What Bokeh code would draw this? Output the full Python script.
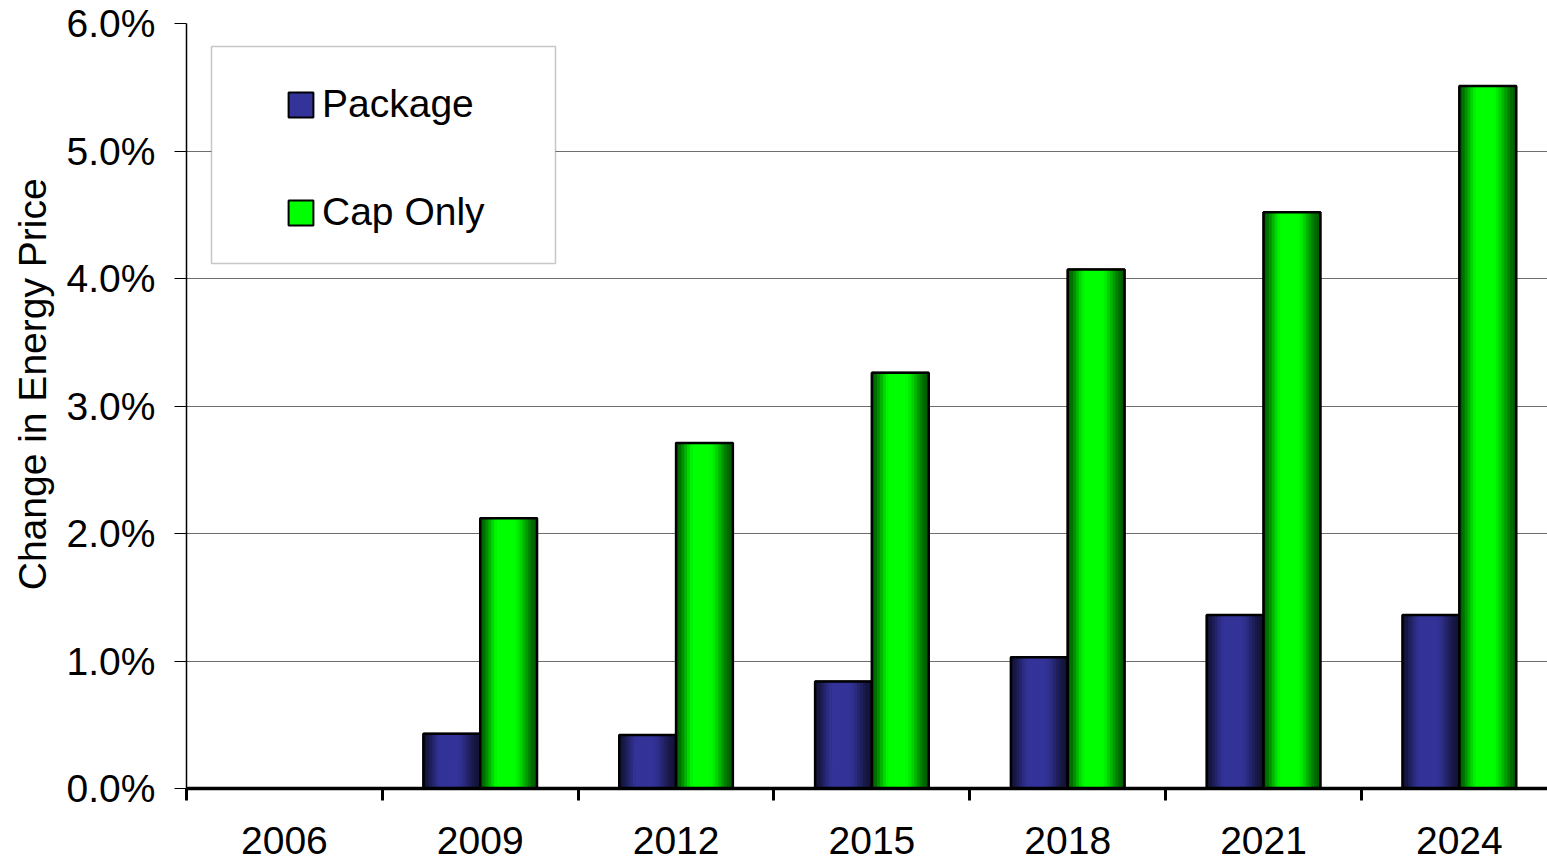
import numpy as np
from bokeh.plotting import figure
from bokeh.models import (Range1d, FixedTicker, NumeralTickFormatter, Legend,
                          LegendItem, BoxAnnotation, ColumnDataSource)
from bokeh.embed import file_html
from bokeh.resources import INLINE

# ---- data (percent) ----
years = ["2006", "2009", "2012", "2015", "2018", "2021", "2024"]
package = [0.0, 0.43, 0.42, 0.84, 1.03, 1.36, 1.36]
cap_only = [0.0, 2.12, 2.71, 3.26, 4.07, 4.52, 5.51]
series_names = ["Package", "Cap Only"]
y_ticks = [0, 1, 2, 3, 4, 5, 6]

# ---- geometry / style ----
W, H = 1547, 861
BL, BT, BR, BB = 186, 23, 0, 73
frame_w = W - BL - BR
frame_h = H - BT - BB
X_END = 6.95
Y_END = 0.06
pxx = frame_w / X_END
pxy = frame_h / Y_END
FONT = "Liberation Sans"
FS = "39px"
bar_w = 0.29
N = 20
navy = (51, 51, 153)
green = (0, 255, 0)


def profile(t):
    lo = 0.36
    if t < 0.33:
        s = t / 0.33
        s = s * s * (3 - 2 * s)
        return lo + (1 - lo) * s
    if t < 0.58:
        return 1.0
    s = (t - 0.58) / 0.42
    s = s * s * (3 - 2 * s)
    return 1 - (1 - lo) * s


def hexcol(rgb, f):
    return "#%02x%02x%02x" % tuple(int(round(c * f)) for c in rgb)


p = figure(width=W, height=H, output_backend="svg", toolbar_location=None,
           x_range=Range1d(0, X_END), y_range=Range1d(0, Y_END),
           min_border_left=BL, min_border_top=BT, min_border_right=BR,
           min_border_bottom=BB)
p.outline_line_color = None
p.background_fill_color = "white"
p.border_fill_color = "white"

legend_rs = []
for vals, base, off in [(package, navy, -bar_w / 2), (cap_only, green, bar_w / 2)]:
    centers = [i + 0.5 + off for i in range(len(years))]
    tops = [v / 100.0 for v in vals]
    # solid base bar (also used for the legend swatch)
    r = p.vbar(x=centers, top=tops, width=bar_w, bottom=0,
               fill_color=hexcol(base, 1.0), line_color="black", line_width=2)
    legend_rs.append(r)
    xs, st, cols = [], [], []
    for c, v in zip(centers, tops):
        for k in range(N):
            t = (k + 0.5) / N
            xs.append(c - bar_w / 2 + t * bar_w)
            st.append(v)
            cols.append(hexcol(base, profile(t)))
    src = ColumnDataSource(dict(x=xs, top=st, color=cols))
    p.vbar(x="x", top="top", width=bar_w / N * 1.25, bottom=0, source=src,
           fill_color="color", line_color=None)
    p.vbar(x=centers, top=tops, width=bar_w, bottom=0,
           fill_color=None, line_color="black", line_width=2.5)

# axes
p.xaxis.ticker = FixedTicker(ticks=[i + 0.5 for i in range(len(years))],
                             minor_ticks=list(range(len(years) + 1)))
p.xaxis.major_label_overrides = {i + 0.5: y for i, y in enumerate(years)}
p.xaxis.major_tick_line_color = None
p.xaxis.minor_tick_line_color = "black"
p.xaxis.minor_tick_line_width = 3
p.xaxis.minor_tick_out = 12
p.xaxis.minor_tick_in = 0
p.xaxis.axis_line_color = "black"
p.xaxis.axis_line_width = 3.5
p.xaxis.major_label_standoff = 26
p.xaxis.major_label_text_font = FONT
p.xaxis.major_label_text_font_size = FS
p.xaxis.major_label_text_color = "black"

p.yaxis.ticker = FixedTicker(ticks=[t / 100.0 for t in y_ticks])
p.yaxis.formatter = NumeralTickFormatter(format="0.0%")
p.yaxis.minor_tick_line_color = None
p.yaxis.major_tick_out = 12
p.yaxis.major_tick_in = 0
p.yaxis.major_tick_line_color = "black"
p.yaxis.axis_line_color = "black"
p.yaxis.axis_line_width = 1.5
p.yaxis.major_label_standoff = 19
p.yaxis.major_label_text_font = FONT
p.yaxis.major_label_text_font_size = FS
p.yaxis.major_label_text_color = "black"
p.yaxis.axis_label = "\u00a0\u00a0\u00a0\u00a0Change in Energy Price"
p.yaxis.axis_label_text_font = FONT
p.yaxis.axis_label_text_font_size = FS
p.yaxis.axis_label_text_font_style = "normal"
p.yaxis.axis_label_text_color = "black"
p.yaxis.axis_label_standoff = 10

p.xgrid.visible = False
p.ygrid.ticker = FixedTicker(ticks=[t / 100.0 for t in y_ticks])
p.ygrid.grid_line_color = "#6e6e6e"
p.ygrid.grid_line_width = 1.2

# legend frame
box = BoxAnnotation(left=25 / pxx, right=369 / pxx,
                    top=Y_END - 23 / pxy, bottom=Y_END - 240 / pxy,
                    fill_color="white", fill_alpha=1.0,
                    line_color="#444444", line_width=1.5)
p.add_layout(box)

legend = Legend(items=[LegendItem(label=series_names[0], renderers=[legend_rs[0]]),
                       LegendItem(label=series_names[1], renderers=[legend_rs[1]])],
                location=(99, 554), padding=0, margin=0, spacing=64,
                border_line_color=None, background_fill_alpha=0,
                glyph_width=31, glyph_height=31, label_standoff=6,
                label_text_font=FONT, label_text_font_size=FS,
                label_text_color="black", label_height=40)
p.add_layout(legend)

open("out.html", "w").write(file_html(p, INLINE, "chart"))
